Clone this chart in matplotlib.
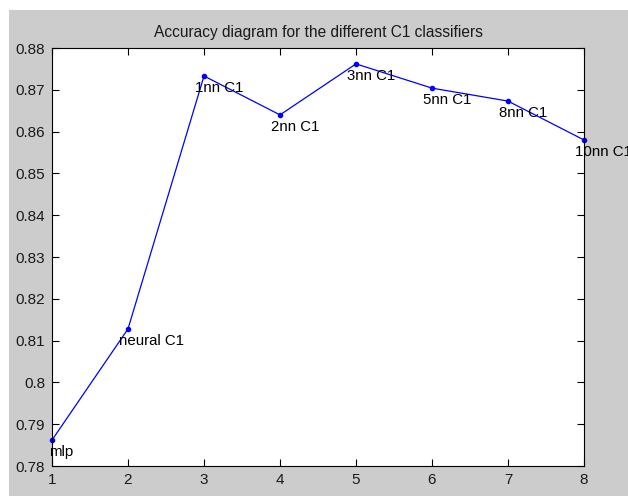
import matplotlib.pyplot as plt
from matplotlib.patches import Rectangle

plt.rcParams['font.family'] = ['Liberation Sans', 'DejaVu Sans']

x = [1, 2, 3, 4, 5, 6, 7, 8]
acc = [0.7862, 0.8128, 0.8733, 0.8640, 0.8762, 0.8704, 0.8673, 0.8580]
names = ['mlp', 'neural C1', '1nn C1', '2nn C1', '3nn C1', '5nn C1', '8nn C1', '10nn C1']
yticks = [0.78, 0.79, 0.80, 0.81, 0.82, 0.83, 0.84, 0.85, 0.86, 0.87, 0.88]
ylabels = ['0.78', '0.79', '0.8', '0.81', '0.82', '0.83', '0.84', '0.85', '0.86', '0.87', '0.88']

W, H = 628, 498
fig = plt.figure(figsize=(W / 100, H / 100), dpi=100, facecolor='white')
# grey matlab figure area
fig.patches.append(Rectangle((9 / W, 2 / H), 1 - 9 / W, 1 - 12 / H, transform=fig.transFigure,
                             facecolor='#cccccc', edgecolor='none', zorder=-10))

ax = fig.add_axes([52 / W, 1 - 466 / H, (584 - 52) / W, (466 - 48) / H])
ax.set_facecolor('white')
ax.plot(x, acc, color='blue', linewidth=0.9, marker='.', markersize=6, clip_on=False)

for xi, yi, nm in zip(x, acc, names):
    dx = -3 if nm == 'mlp' else -9
    ax.annotate(nm, (xi, yi), xytext=(dx, -12), textcoords='offset pixels',
                ha='left', va='center', fontsize=10.8, color='black', annotation_clip=False)

ax.set_xlim(1, 8)
ax.set_ylim(0.78, 0.88)
ax.set_xticks(x)
ax.set_yticks(yticks)
ax.set_yticklabels(ylabels)
ax.tick_params(direction='in', length=5, top=True, right=True, labelsize=11, width=0.8, pad=5,
               labelcolor='#1a1a1a')
for s in ax.spines.values():
    s.set_linewidth(0.8)

ax.set_title('Accuracy diagram for the different C1 classifiers', fontsize=11.2, pad=8, color='#1a1a1a')

fig.savefig('out.png', dpi=100, facecolor=fig.get_facecolor())
